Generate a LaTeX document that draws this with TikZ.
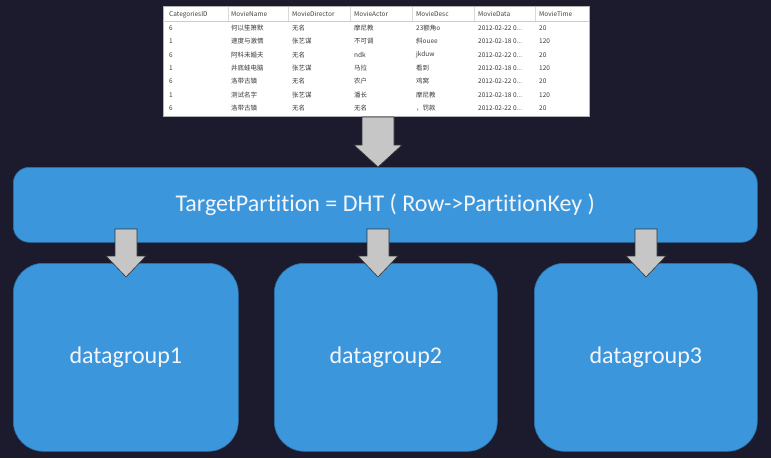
\documentclass[tikz,border=0pt]{standalone}
\usepackage{fontspec}
\setmainfont{Carlito}[Ligatures={NoCommon}]
\newfontfamily\cjk{Noto Sans CJK SC}
\usetikzlibrary{calc}
\definecolor{bg}{HTML}{1B1B2D}
\definecolor{boxblue}{HTML}{3B96DC}
\definecolor{boxedge}{HTML}{2C6FA6}
\definecolor{arrowgray}{HTML}{C6C6C6}
\definecolor{tabtext}{HTML}{3A3A3A}
\definecolor{boxtext}{HTML}{F2F6FC}
\tikzset{
  bluebox/.style={draw=boxedge, line width=0.6pt, fill=boxblue, inner sep=0pt},
  bigtext/.style={text=boxtext, font=\fontsize{24}{28}\selectfont},
  cell/.style={anchor=west, text=tabtext, font=\cjk\fontsize{6.5}{7}\selectfont, inner sep=0pt},
  hcell/.style={cell, text=black!75},
  blockarrow/.style={fill=arrowgray, draw=black!80, line width=0.6pt, line join=miter}
}
\newcommand\mydd{...}
% #1 x center, #2 y top, #3 y tip, #4 shaft half width, #5 head half width, #6 head length
\newcommand\myblockarrow[6]{%
  \draw[blockarrow] (#1-#4,#2) -- (#1+#4,#2) -- (#1+#4,#3-#6) -- (#1+#5,#3-#6) -- (#1,#3)
    -- (#1-#5,#3-#6) -- (#1-#4,#3-#6) -- cycle;}
\begin{document}
\begin{tikzpicture}[x=1pt,y=-1pt]
\fill[bg] (0,0) rectangle (771,458);
\useasboundingbox (0,0) rectangle (771,458);

% table
\node[draw=black!30, fill=white, minimum width=426pt, minimum height=110pt, inner sep=0pt, anchor=north west] (table) at (163,6) {};
\draw[black!20, line width=0.4pt] (163,21) -- (589,21);
\foreach \x in {228,288,350,412,474,535} \draw[black!15, line width=0.4pt] (\x,7) -- (\x,21);
\foreach \x/\t in {169/CategoriesID,231/MovieName,292/MovieDirector,354/MovieActor,416/MovieDesc,478/MovieData,539/MovieTime}
  \node[hcell] at (\x,14.5) {\t};
\foreach \y/\a/\b/\c/\d/\e/\f/\g in {
  28/6/何以笙箫默/无名/摩尼教/23额角o/2012-02-22 0\mydd/20,
  41/1/速度与激情/张艺谋/不可调/斜ouee/2012-02-18 0\mydd/120,
  55/6/阿科未婚夫/无名/ndk/jkduw/2012-02-22 0\mydd/20,
  68/1/井底蛙电脑/张艺谋/马拉/看到/2012-02-18 0\mydd/120,
  81/6/洛带古镇/无名/农户/鸡窝/2012-02-22 0\mydd/20,
  95/1/测试名字/张艺谋/潘长/摩尼教/2012-02-18 0\mydd/120,
  108/6/洛带古镇/无名/无名/，罚款/2012-02-22 0\mydd/20}
{
  \node[cell] at (169,\y) {\a};
  \node[cell] at (231,\y) {\b};
  \node[cell] at (292,\y) {\c};
  \node[cell] at (354,\y) {\d};
  \node[cell] at (416,\y) {\e};
  \node[cell] at (478,\y) {\f};
  \node[cell] at (539,\y) {\g};
}

% big box
\node[bluebox, rounded corners=16pt, minimum width=744pt, minimum height=75pt, anchor=north west] (dht) at (13,167) {};
\node[bigtext] (dhttext) at (dht.center) {TargetPartition = DHT ( Row->PartitionKey )};

% bottom boxes
\node[bluebox, rounded corners=30pt, minimum width=225pt, minimum height=188pt, anchor=north west] (g1) at (13,263) {};
\node[bluebox, rounded corners=30pt, minimum width=223pt, minimum height=188pt, anchor=north west] (g2) at (274,263) {};
\node[bluebox, rounded corners=30pt, minimum width=223pt, minimum height=188pt, anchor=north west] (g3) at (534,263) {};
\node[bigtext] (t1) at (g1.center) {datagroup1};
\node[bigtext] (t2) at (g2.center) {datagroup2};
\node[bigtext] (t3) at (g3.center) {datagroup3};

% arrows
\myblockarrow{378}{117}{167}{16}{24}{22}
\myblockarrow{126}{229}{277}{11}{20}{21}
\myblockarrow{378}{229}{277}{11}{20}{21}
\myblockarrow{646}{229}{277}{11}{20}{21}
\end{tikzpicture}
\end{document}
